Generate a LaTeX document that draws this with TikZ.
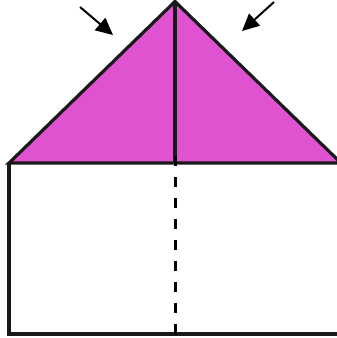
\documentclass[tikz,border=0pt]{standalone}
\usetikzlibrary{arrows.meta}
\definecolor{fold}{RGB}{224,83,208}
\tikzset{
  edge/.style={line width=3.2pt, line join=miter, draw=black!90},
  crease/.style={line width=3pt, dash pattern=on 10pt off 11pt, draw=black},
  pointer/.style={line width=2pt, -{Triangle[length=17pt,width=16pt]}}
}
\begin{document}
\begin{tikzpicture}[x=1pt,y=-1pt]
\useasboundingbox (0,0) rectangle (337,338);
\clip (0,0) rectangle (337,338);
\coordinate (apex) at (175,1.5);
\coordinate (bl) at (9,163);
\coordinate (br) at (341,163);
\coordinate (mid) at (175,163);
\coordinate (lbot) at (9,334);
\coordinate (rbot) at (341,334);
\coordinate (mbot) at (175,334);
% triangle flap
\filldraw[fill=fold, edge] (bl) -- (apex) -- (br) -- cycle;
\draw[edge] (apex) -- (mid);
% rectangle
\draw[edge] (bl) -- (lbot) -- (rbot);
% dashed crease
\draw[crease] ([yshift=7pt]mid) -- (mbot);
% arrows
\coordinate (a1s) at (80,7);
\coordinate (a1e) at (113,35);
\coordinate (a2s) at (274,2);
\coordinate (a2e) at (242,31);
\draw[pointer] (a1s) -- (a1e);
\draw[pointer] (a2s) -- (a2e);
\end{tikzpicture}
\end{document}
